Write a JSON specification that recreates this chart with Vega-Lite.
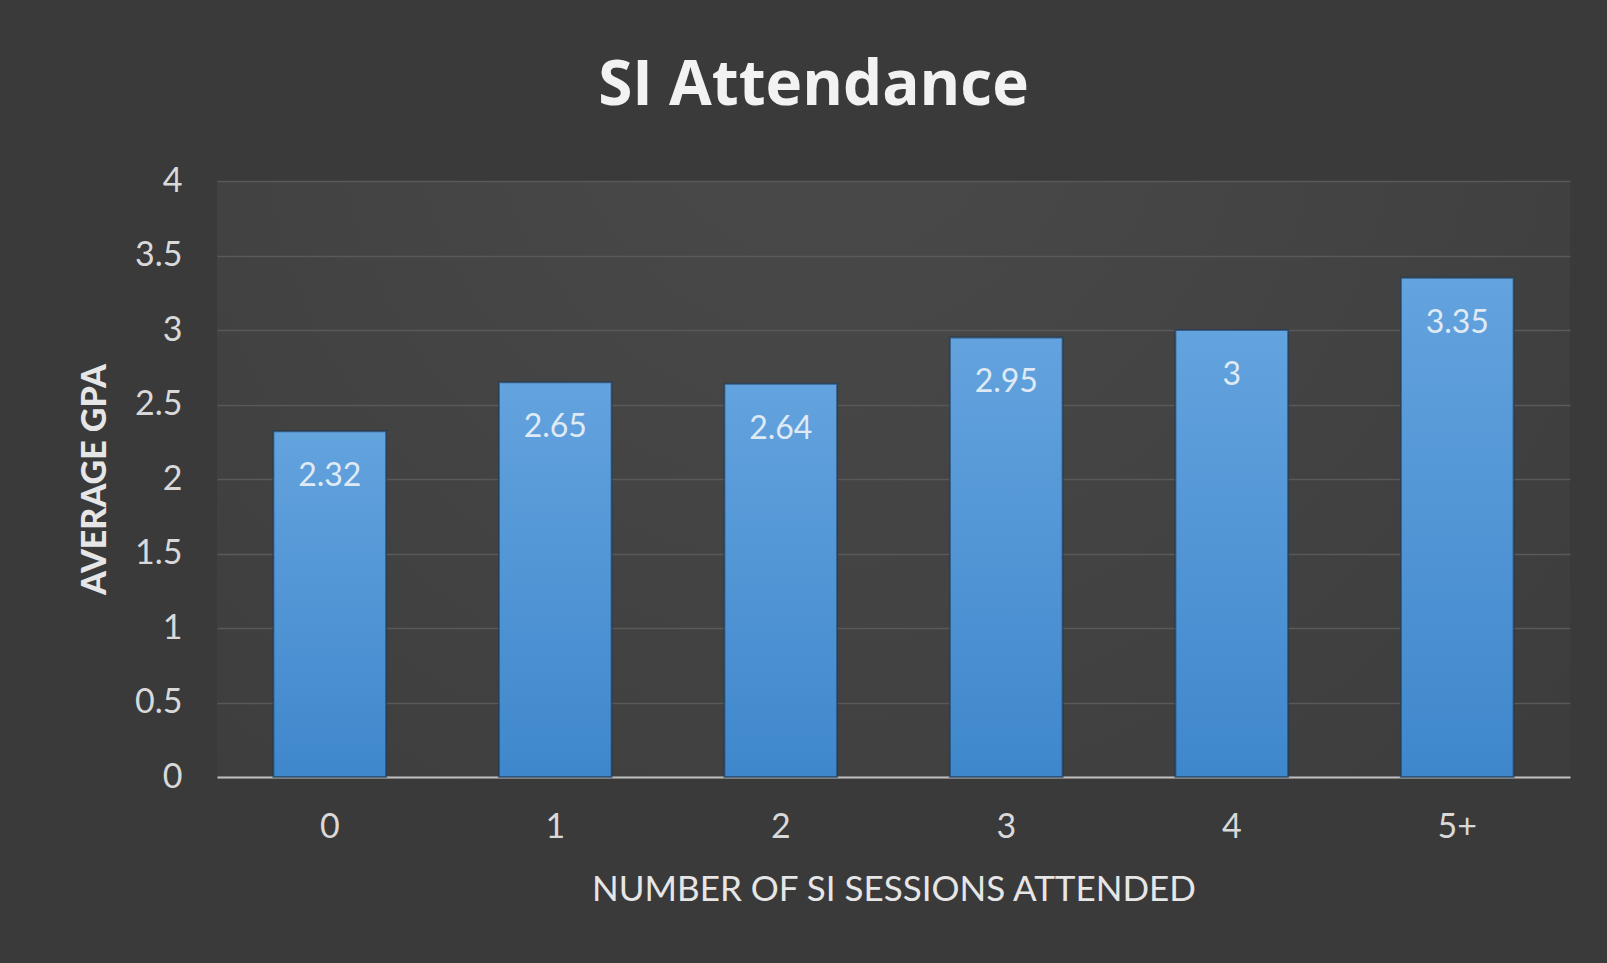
{
  "$schema": "https://vega.github.io/schema/vega-lite/v6.json",
  "width": 1353,
  "height": 596,
  "autosize": {"type": "none"},
  "padding": {"left": 217, "top": 181, "right": 37, "bottom": 186},
  "background": "#3a3a3a",
  "title": {
    "text": "SI Attendance",
    "anchor": "middle",
    "frame": "group",
    "dx": -80,
    "offset": 46,
    "font": "Open Sans",
    "fontWeight": "bold",
    "fontSize": 62,
    "color": "#f2f2f2"
  },
  "data": {
    "values": [
      {"sessions": "0", "gpa": 2.32},
      {"sessions": "1", "gpa": 2.65},
      {"sessions": "2", "gpa": 2.64},
      {"sessions": "3", "gpa": 2.95},
      {"sessions": "4", "gpa": 3},
      {"sessions": "5+", "gpa": 3.35}
    ]
  },
  "encoding": {
    "x": {
      "field": "sessions",
      "type": "nominal",
      "sort": null,
      "scale": {"paddingInner": 0.5, "paddingOuter": 0.25},
      "axis": {
        "title": "NUMBER OF SI SESSIONS ATTENDED",
        "labelAngle": 0,
        "ticks": false,
        "domainColor": "#bfbfbf",
        "domainWidth": 2,
        "labelFont": "Lato",
        "labelFontSize": 34,
        "labelColor": "#d9d9d9",
        "labelPadding": 33,
        "titleFont": "Lato",
        "titleFontSize": 35,
        "titleFontWeight": "normal",
        "titleColor": "#e6e6e6",
        "titlePadding": 28
      }
    },
    "y": {
      "field": "gpa",
      "type": "quantitative",
      "scale": {"domain": [0, 4]},
      "axis": {
        "title": "AVERAGE GPA",
        "values": [0, 0.5, 1, 1.5, 2, 2.5, 3, 3.5, 4],
        "format": "~g",
        "ticks": false,
        "domain": false,
        "gridColor": "#595959",
        "gridWidth": 1.5,
        "labelFont": "Lato",
        "labelFontSize": 34,
        "labelColor": "#d9d9d9",
        "labelPadding": 35,
        "titleFont": "Lato",
        "titleFontSize": 34,
        "titleFontWeight": "900",
        "titleColor": "#e6e6e6",
        "titlePadding": 22
      }
    }
  },
  "layer": [
    {
      "mark": {
        "type": "bar",
        "stroke": "#1c3550",
        "strokeOpacity": 0.6,
        "strokeWidth": 2,
        "color": {
          "gradient": "linear",
          "x1": 0, "y1": 0, "x2": 0, "y2": 1,
          "stops": [
            {"offset": 0, "color": "#63a3de"},
            {"offset": 1, "color": "#3f87cc"}
          ]
        }
      }
    },
    {
      "mark": {
        "type": "text",
        "baseline": "top",
        "dy": 30,
        "font": "Lato",
        "fontSize": 32,
        "color": "#dfeaf5"
      },
      "encoding": {"text": {"field": "gpa", "type": "quantitative"}}
    }
  ],
  "config": {
    "view": {
      "stroke": null,
      "fill": {
        "gradient": "radial",
        "x1": 0.45, "y1": 0.2, "r1": 0,
        "x2": 0.45, "y2": 0.2, "r2": 0.9,
        "stops": [
          {"offset": 0, "color": "#4a4a4a"},
          {"offset": 1, "color": "#3a3a3a"}
        ]
      }
    }
  }
}
